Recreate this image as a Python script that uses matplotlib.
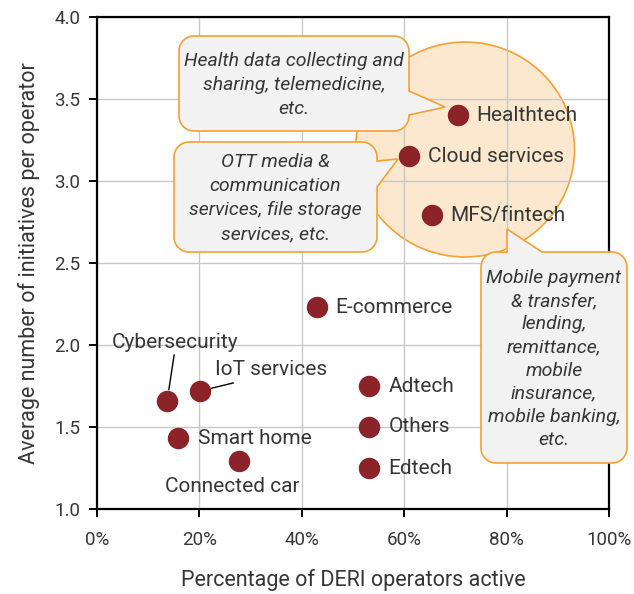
import numpy as np
import matplotlib
matplotlib.use("Agg")
import matplotlib.pyplot as plt
from matplotlib.patches import Polygon, Ellipse
from matplotlib.ticker import FuncFormatter

plt.rcParams['font.family'] = ['Roboto', 'DejaVu Sans']

# ---- data ----
categories = ["Healthtech", "Cloud services", "MFS/fintech", "E-commerce", "Adtech",
              "Others", "Edtech", "Cybersecurity", "IoT services", "Smart home", "Connected car"]
pct_active = [70.5, 60.9, 65.4, 42.9, 53.2, 53.2, 53.2, 13.7, 20.2, 15.9, 27.8]
avg_initiatives = [3.40, 3.15, 2.79, 2.23, 1.75, 1.50, 1.25, 1.66, 1.72, 1.43, 1.29]
x_ticks = [0, 20, 40, 60, 80, 100]
y_ticks = [1.0, 1.5, 2.0, 2.5, 3.0, 3.5, 4.0]

health_note = "Health data collecting and\nsharing, telemedicine,\netc."
cloud_note = "OTT media &\ncommunication\nservices, file storage\nservices, etc."
mfs_note = "Mobile payment\n& transfer,\nlending,\nremittance,\nmobile\ninsurance,\nmobile banking,\netc."

# ---- style ----
DOT = "#8B2328"
TXT = "#363636"
ORANGE = "#F5A133"
PEACH = "#FCE7CF"
BOXFACE = "#F2F2F2"

W, H = 634, 594
fig = plt.figure(figsize=(W / 100, H / 100), dpi=100)
ax = fig.add_axes([97 / W, 1 - 509 / H, (609 - 97) / W, (509 - 17) / H])
ax.set_xlim(0, 100)
ax.set_ylim(1.0, 4.0)
ax.set_xticks(x_ticks)
ax.set_yticks(y_ticks)
ax.xaxis.set_major_formatter(FuncFormatter(lambda v, p: f"{v:.0f}%"))
ax.yaxis.set_major_formatter(FuncFormatter(lambda v, p: f"{v:.1f}"))
ax.grid(True, color="#C8C8C8", linewidth=1.0)
ax.set_axisbelow(True)
for s in ax.spines.values():
    s.set_linewidth(1.6)
    s.set_color("black")
    s.set_zorder(2)
ax.tick_params(axis="both", direction="out", length=6, width=1.4, colors="black",
               labelsize=13.5, labelcolor=TXT)
ax.tick_params(axis="x", pad=10)
ax.tick_params(axis="y", pad=6)
ax.set_xlabel("Percentage of DERI operators active", fontsize=15.5, color=TXT, labelpad=14)
ax.set_ylabel("Average number of initiatives per operator", fontsize=15.5, color=TXT, labelpad=10)

# pixel scale of data units
fig.canvas.draw()
p0 = ax.transData.transform((0, 1.0))
p1 = ax.transData.transform((100, 4.0))
sx = (p1[0] - p0[0]) / 100.0
sy = (p1[1] - p0[1]) / 3.0

def px2x(px):
    return (px - 97) / sx

def px2y(py):
    return 1.0 + (509 - py) / sy

# big highlight ellipse (circle in pixels), under the grid
ell = Ellipse((px2x(465), px2y(149.5)), 219 / sx, 215 / sy, facecolor=PEACH,
              edgecolor=ORANGE, linewidth=1.2, zorder=0.3)
ax.add_patch(ell)

def callout(x0, x1, y0, y1, side, b0, b1, tip, r=15):
    rx, ry = r / sx, r / sy
    pts = []
    def arc(cx, cy, a0, a1):
        for t in np.linspace(np.radians(a0), np.radians(a1), 12):
            pts.append((cx + rx * np.cos(t), cy + ry * np.sin(t)))
    arc(x1 - rx, y0 + ry, -90, 0)
    if side == "right":
        pts.extend([(x1, b0), tip, (x1, b1)])
    arc(x1 - rx, y1 - ry, 0, 90)
    if side == "top":
        pts.extend([(b1, y1), tip, (b0, y1)])
    arc(x0 + rx, y1 - ry, 90, 180)
    arc(x0 + rx, y0 + ry, 180, 270)
    poly = Polygon(pts, closed=True, facecolor=BOXFACE, edgecolor=ORANGE,
                   linewidth=1.2, zorder=4, clip_on=False)
    ax.add_patch(poly)

NOTE_FS = 14
NOTE_LS = 1.42
# Health box
callout(px2x(179), px2x(409), px2y(131), px2y(36), "right",
        px2y(115), px2y(91), (px2x(445), px2y(107)))
ax.text(px2x(294), px2y(85), health_note, ha="center", va="center", fontsize=NOTE_FS,
        style="italic", color=TXT, linespacing=NOTE_LS, zorder=5)
# Cloud box
callout(px2x(174), px2x(377), px2y(252), px2y(142), "right",
        px2y(187), px2y(161), (px2x(398), px2y(159)))
ax.text(px2x(275.5), px2y(198), cloud_note, ha="center", va="center", fontsize=NOTE_FS,
        style="italic", color=TXT, linespacing=NOTE_LS, zorder=5)
# MFS box
callout(px2x(481), px2x(627), px2y(463), px2y(252), "top",
        px2x(507), px2x(542), (px2x(507), px2y(229)))
ax.text(px2x(554), px2y(359), mfs_note, ha="center", va="center", fontsize=NOTE_FS,
        style="italic", color=TXT, linespacing=1.36, zorder=5, clip_on=False)

# dots
ax.scatter(pct_active, avg_initiatives, s=22 ** 2 * 0.72 ** 2 * 0.95, color=DOT,
           zorder=6, linewidths=0)

# labels: offset in px, horizontal alignment
label_cfg = {
    "Healthtech": ((18, 0), "left"),
    "Cloud services": ((19, 0), "left"),
    "MFS/fintech": ((18, 0), "left"),
    "E-commerce": ((19, 0), "left"),
    "Adtech": ((19, 0), "left"),
    "Others": ((19, 0), "left"),
    "Edtech": ((19, 0), "left"),
    "Smart home": ((20, 0), "left"),
    "Cybersecurity": ((8, 58), "center"),
    "IoT services": ((15, 21), "left"),
    "Connected car": ((-7, -25), "center"),
}
for name, xv, yv in zip(categories, pct_active, avg_initiatives):
    (dx, dy), ha = label_cfg[name]
    ax.annotate(name, (xv, yv), xytext=(dx * 0.72, dy * 0.72), textcoords="offset points",
                ha=ha, va="center", fontsize=15, color=TXT, zorder=7)

# leader lines
cyb = categories.index("Cybersecurity")
iot = categories.index("IoT services")
ax.annotate("", (pct_active[cyb], avg_initiatives[cyb]), xytext=(7 * 0.72, 46 * 0.72),
            textcoords="offset points",
            arrowprops=dict(arrowstyle="-", color="black", lw=1.0, shrinkA=0, shrinkB=8))
ax.annotate("", (pct_active[iot], avg_initiatives[iot]), xytext=(33 * 0.72, 8 * 0.72),
            textcoords="offset points",
            arrowprops=dict(arrowstyle="-", color="black", lw=1.0, shrinkA=0, shrinkB=8))

fig.savefig("out.png", dpi=100)
